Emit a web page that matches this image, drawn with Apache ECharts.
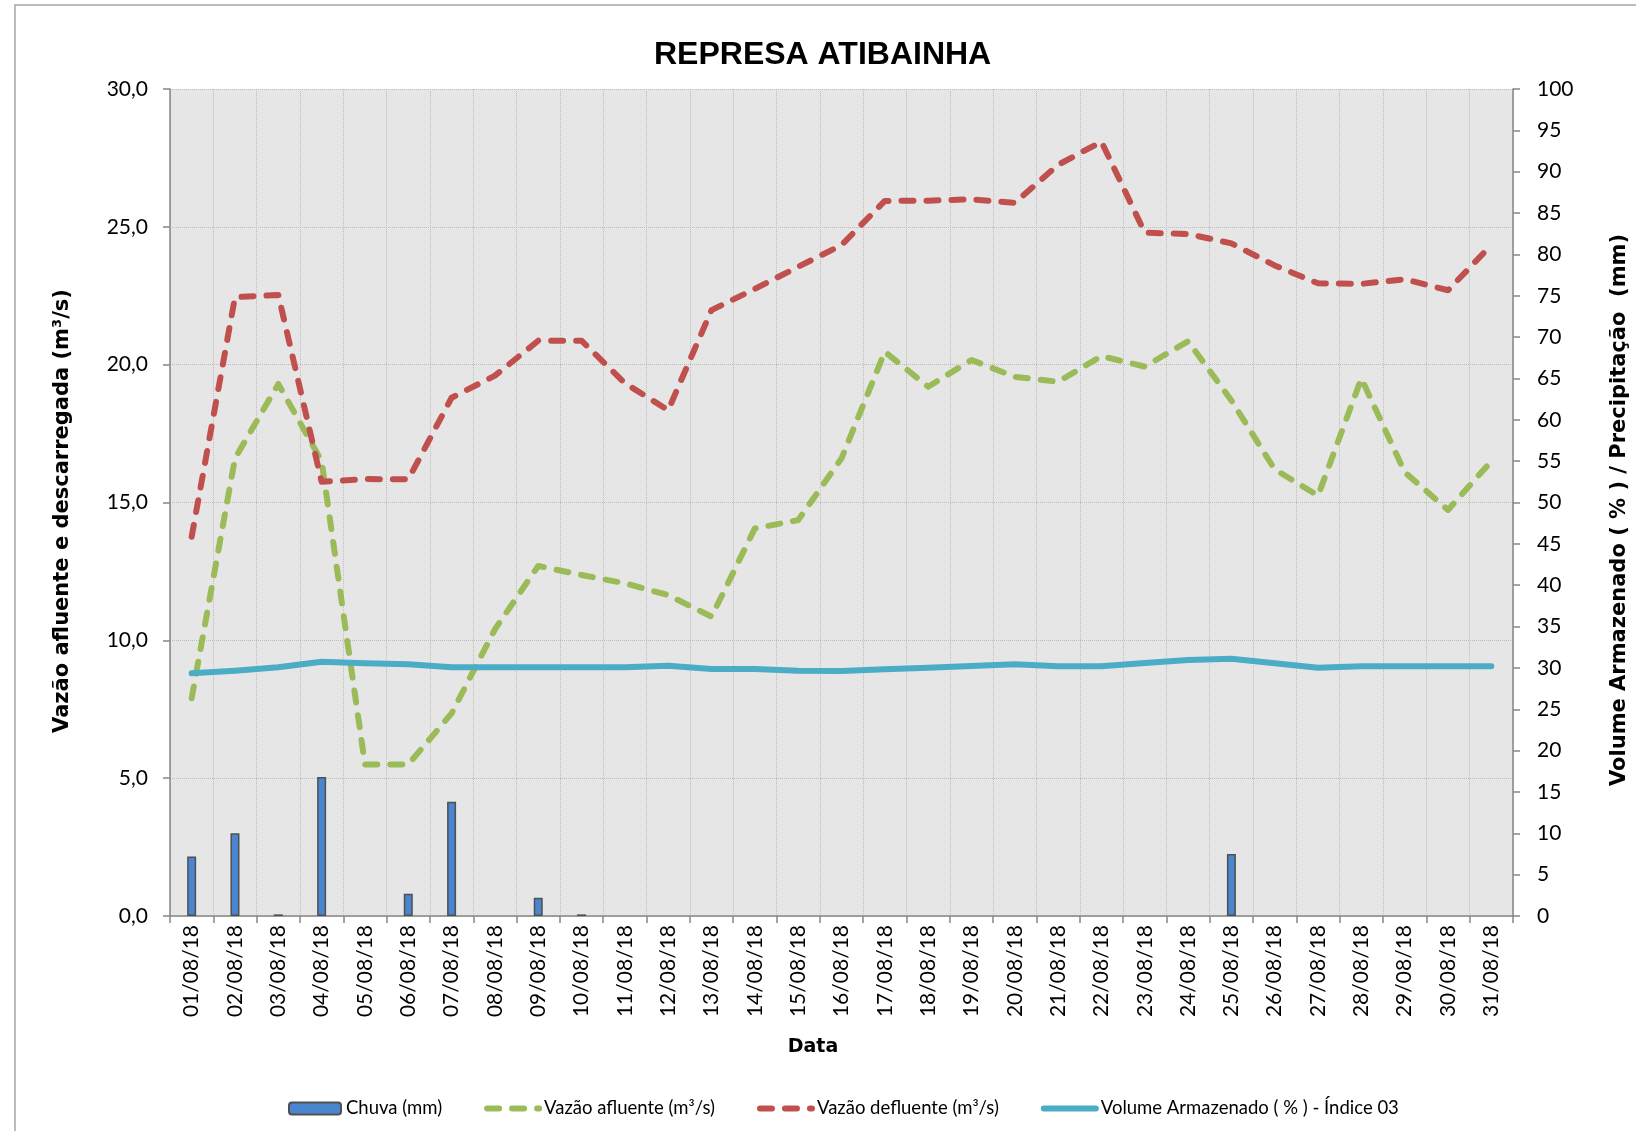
<!DOCTYPE html>
<html>
<head>
<meta charset="utf-8">
<script src="https://cdn.jsdelivr.net/npm/echarts@6/dist/echarts.min.js"></script>
<style>
html,body{margin:0;padding:0;background:#fff;}
#chart{width:1636px;height:1131px;}
</style>
</head>
<body>
<div id="chart"></div>
<script>
// ---- Data ----
const dates = ['01/08/18','02/08/18','03/08/18','04/08/18','05/08/18','06/08/18','07/08/18','08/08/18','09/08/18','10/08/18',
  '11/08/18','12/08/18','13/08/18','14/08/18','15/08/18','16/08/18','17/08/18','18/08/18','19/08/18','20/08/18',
  '21/08/18','22/08/18','23/08/18','24/08/18','25/08/18','26/08/18','27/08/18','28/08/18','29/08/18','30/08/18','31/08/18'];
const chuva = [7.2, 10.0, 0.2, 16.8, 0, 2.7, 13.8, 0, 2.2, 0.2,
  0, 0, 0, 0, 0, 0, 0, 0, 0, 0,
  0, 0, 0, 0, 7.5, 0, 0, 0, 0, 0, 0];
const vazaoAfluente = [7.9, 16.6, 19.3, 16.5, 5.5, 5.5, 7.35, 10.4, 12.7, 12.37,
  12.07, 11.64, 10.86, 14.06, 14.36, 16.6, 20.47, 19.2, 20.17, 19.56,
  19.38, 20.31, 19.93, 20.85, 18.7, 16.2, 15.25, 19.5, 16.1, 14.73, 16.5];
const vazaoDefluente = [13.76, 22.45, 22.53, 15.75, 15.85, 15.84, 18.8, 19.6, 20.87, 20.87,
  19.33, 18.35, 21.98, 22.75, 23.55, 24.34, 25.94, 25.95, 26.0, 25.87,
  27.25, 28.09, 24.79, 24.74, 24.4, 23.6, 22.95, 22.93, 23.1, 22.7, 24.34];
const volumeArmazenado = [29.35, 29.66, 30.07, 30.75, 30.55, 30.43, 30.07, 30.07, 30.07, 30.07,
  30.07, 30.27, 29.87, 29.87, 29.66, 29.62, 29.83, 30.03, 30.23, 30.43,
  30.19, 30.19, 30.59, 30.95, 31.11, 30.55, 30.03, 30.19, 30.19, 30.19, 30.19];

const titleText = 'REPRESA ATIBAINHA';
const leftAxisName = 'Vazão afluente e descarregada (m³/s)';
const rightAxisName = 'Volume Armazenado ( % ) / Precipitação  (mm)';
const xAxisName = 'Data';
const seriesNames = ['Chuva (mm)', 'Vazão afluente (m³/s)', 'Vazão defluente (m³/s)', 'Volume Armazenado ( % ) - Índice 03'];

// ---- Chart ----
const chart = echarts.init(document.getElementById('chart'), null, {renderer: 'canvas'});
const tickFont = {fontFamily: 'Lato', fontSize: 21, color: '#000'};
const axisLineStyle = {color: '#868686', width: 1.5};
const gridLine = {show: true, lineStyle: {color: '#bdbdbd', type: 'dotted', width: 1}};
const dashStyle = (c) => ({color: c, width: 6, type: [12, 13], cap: 'round', join: 'round'});

const option = {
  animation: false,
  backgroundColor: '#ffffff',
  title: {
    text: titleText, left: 654, top: 39, padding: 0,
    textStyle: {fontFamily: 'Liberation Sans', fontWeight: 'bold', fontSize: 32, color: '#000'}
  },
  grid: {left: 170, right: 123, top: 89, bottom: 215, show: true, backgroundColor: '#e6e6e6', borderWidth: 0},
  legend: {
    data: [
      {name: seriesNames[0]},
      {name: seriesNames[1], itemStyle: {opacity: 0}, lineStyle: dashStyle('#9bbb59')},
      {name: seriesNames[2], itemStyle: {opacity: 0}, lineStyle: dashStyle('#c0504d')},
      {name: seriesNames[3], itemStyle: {opacity: 0}, lineStyle: {color: '#4bacc6', width: 6, cap: 'round'}}
    ],
    left: 283, top: 1094,
    itemWidth: 52, itemHeight: 12, itemGap: 42,
    textStyle: {fontFamily: 'Lato', fontSize: 18.5, color: '#000'}
  },
  xAxis: {
    type: 'category', data: dates, boundaryGap: true,
    axisLine: {lineStyle: axisLineStyle},
    axisTick: {show: true, interval: 0, length: 7, lineStyle: {color: '#868686', width: 1.5}},
    axisLabel: Object.assign({rotate: 90, interval: 0, margin: 9}, tickFont),
    splitLine: {show: true, interval: 0, lineStyle: {color: '#bdbdbd', type: 'dotted', width: 1}}
  },
  yAxis: [
    {
      type: 'value', min: 0, max: 30, interval: 5, position: 'left',
      axisLine: {show: true, lineStyle: axisLineStyle},
      axisTick: {show: true, length: 7, lineStyle: {color: '#868686', width: 1.5}},
      axisLabel: Object.assign({margin: 22, formatter: v => v.toFixed(1).replace('.', ',')}, tickFont),
      splitLine: gridLine
    },
    {
      type: 'value', min: 0, max: 100, interval: 5, position: 'right',
      axisLine: {show: true, lineStyle: axisLineStyle},
      axisTick: {show: true, length: 7, lineStyle: {color: '#868686', width: 1.5}},
      axisLabel: Object.assign({margin: 24}, tickFont),
      splitLine: {show: false}
    }
  ],
  series: [
    {
      name: seriesNames[0], type: 'bar', yAxisIndex: 1,
      data: chuva.map(v => (v === 0 ? '-' : v)), barWidth: 9,
      itemStyle: {color: '#4a86d0', borderColor: '#505050', borderWidth: 1.5}
    },
    {
      name: seriesNames[1], type: 'line', yAxisIndex: 0, data: vazaoAfluente, symbol: 'none',
      itemStyle: {color: '#9bbb59'},
      lineStyle: dashStyle('#9bbb59')
    },
    {
      name: seriesNames[2], type: 'line', yAxisIndex: 0, data: vazaoDefluente, symbol: 'none',
      itemStyle: {color: '#c0504d'},
      lineStyle: dashStyle('#c0504d')
    },
    {
      name: seriesNames[3], type: 'line', yAxisIndex: 1, data: volumeArmazenado, symbol: 'none',
      itemStyle: {color: '#4bacc6'},
      lineStyle: {color: '#4bacc6', width: 6, cap: 'round', join: 'round'}
    }
  ],
  graphic: [
    {type: 'rect', z: -10, shape: {x: 15, y: 5, width: 1700, height: 1300}, style: {fill: null, stroke: '#a6a6a6', lineWidth: 1.5}},
    {type: 'text', x: 63, y: 511, rotation: Math.PI / 2,
     style: {text: leftAxisName, fontFamily: 'DejaVu Sans', fontWeight: 'bold', fontSize: 21, fill: '#000', textAlign: 'center', textVerticalAlign: 'middle'}},
    {type: 'text', x: 1620, y: 510, rotation: Math.PI / 2,
     style: {text: rightAxisName, fontFamily: 'DejaVu Sans', fontWeight: 'bold', fontSize: 21, fill: '#000', textAlign: 'center', textVerticalAlign: 'middle'}},
    {type: 'text', x: 813, y: 1047,
     style: {text: xAxisName, fontFamily: 'DejaVu Sans', fontWeight: 'bold', fontSize: 19, fill: '#000', textAlign: 'center', textVerticalAlign: 'middle'}}
  ]
};
chart.setOption(option);
</script>
</body>
</html>
